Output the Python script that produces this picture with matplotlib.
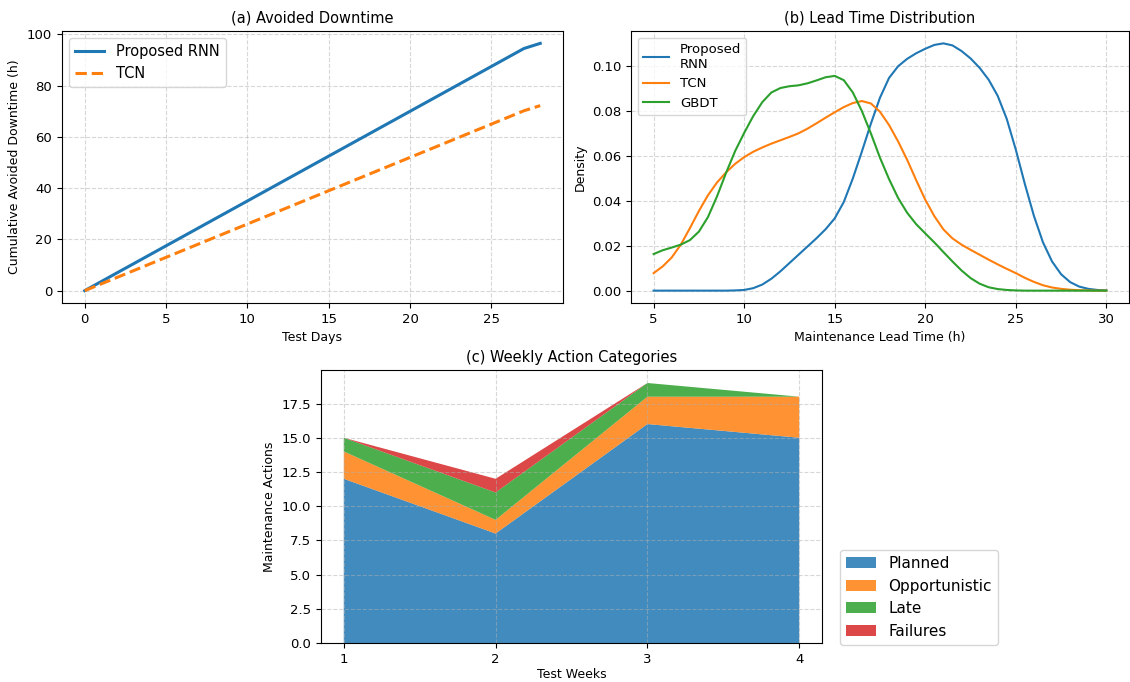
import matplotlib
matplotlib.use("Agg")
import matplotlib.pyplot as plt
import numpy as np

# (a) cumulative avoided downtime per test day
days = list(range(29))
rnn_cum = [0, 3.5, 7, 10.5, 14, 17.5, 21, 24.5, 28, 31.5, 35, 38.5, 42, 45.5, 49,
           52.5, 56, 59.5, 63, 66.5, 70, 73.5, 77, 80.5, 84, 87.5, 91, 94.5, 96.5]
tcn_cum = [0, 2.6, 5.2, 7.8, 10.4, 13, 15.6, 18.2, 20.8, 23.4, 26, 28.6, 31.2, 33.8,
           36.4, 39, 41.6, 44.2, 46.8, 49.4, 52, 54.6, 57.2, 59.8, 62.4, 65, 67.6,
           70.2, 72.2]

# (b) lead time density, read every 0.5 h from 5 to 30
lead_hours = [5.0, 5.5, 6.0, 6.5, 7.0, 7.5, 8.0, 8.5, 9.0, 9.5, 10.0, 10.5, 11.0,
              11.5, 12.0, 12.5, 13.0, 13.5, 14.0, 14.5, 15.0, 15.5, 16.0, 16.5,
              17.0, 17.5, 18.0, 18.5, 19.0, 19.5, 20.0, 20.5, 21.0, 21.5, 22.0,
              22.5, 23.0, 23.5, 24.0, 24.5, 25.0, 25.5, 26.0, 26.5, 27.0, 27.5,
              28.0, 28.5, 29.0, 29.5, 30.0]
dens_rnn = [0, 0, 0, 0, 0, 0, 0, 0, 0, 0.0001, 0.0003, 0.0011, 0.0027, 0.0053,
            0.0086, 0.0123, 0.0160, 0.0197, 0.0234, 0.0274, 0.0322, 0.0395, 0.0500,
            0.0620, 0.0745, 0.0860, 0.0948, 0.1000, 0.1033, 0.1058, 0.1078, 0.1095,
            0.1102, 0.1093, 0.1068, 0.1035, 0.0993, 0.0940, 0.0868, 0.0765, 0.0628,
            0.0475, 0.0333, 0.0215, 0.0130, 0.0073, 0.0038, 0.0018, 0.0008, 0.0003,
            0.0001]
dens_tcn = [0.0078, 0.0108, 0.0148, 0.0205, 0.0278, 0.0355, 0.0425, 0.0482, 0.0527,
            0.0565, 0.0595, 0.0619, 0.0638, 0.0655, 0.0670, 0.0685, 0.0701, 0.0722,
            0.0746, 0.0771, 0.0795, 0.0818, 0.0836, 0.0845, 0.0834, 0.0797, 0.0738,
            0.0665, 0.0583, 0.0492, 0.0405, 0.0332, 0.0273, 0.0233, 0.0205, 0.0182,
            0.0160, 0.0138, 0.0117, 0.0097, 0.0078, 0.0057, 0.0039, 0.0024, 0.0014,
            0.0008, 0.0004, 0.0002, 0.0001, 0.0, 0.0]
dens_gbdt = [0.0163, 0.0180, 0.0192, 0.0205, 0.0225, 0.0263, 0.0328, 0.0420, 0.0525,
             0.0622, 0.0703, 0.0778, 0.0840, 0.0883, 0.0903, 0.0911, 0.0915, 0.0924,
             0.0937, 0.0951, 0.0957, 0.0938, 0.0883, 0.0800, 0.0700, 0.0592, 0.0497,
             0.0413, 0.0347, 0.0296, 0.0255, 0.0215, 0.0172, 0.0130, 0.0090, 0.0056,
             0.0031, 0.0015, 0.0007, 0.0003, 0.0001, 0, 0, 0, 0, 0, 0, 0, 0, 0, 0]

# (c) weekly action categories
weeks = [1, 2, 3, 4]
planned = [12, 8, 16, 15]
opportunistic = [2, 1, 2, 3]
late = [1, 2, 1, 0]
failures = [0, 1, 0, 0]
category_labels = ["Planned", "Opportunistic", "Late", "Failures"]


fig = plt.figure(figsize=(11.3, 6.82), dpi=100)
W, H = 1130, 682


def px_axes(left, top, right, bottom):
    return fig.add_axes([left / W, 1 - bottom / H, (right - left) / W, (bottom - top) / H])


ax1 = px_axes(62, 31, 563, 303)
ax2 = px_axes(631, 31, 1129, 303)
ax3 = px_axes(321, 370, 822, 643)

ax1.plot(days, rnn_cum, "-", color="tab:blue", lw=2.2, label="Proposed RNN")
ax1.plot(days, tcn_cum, "--", color="tab:orange", lw=2.2, label="TCN")
ax1.set_title("(a) Avoided Downtime", fontsize=10.5)
ax1.set_xlabel("Test Days", fontsize=9)
ax1.set_ylabel("Cumulative Avoided Downtime (h)", fontsize=9)
ax1.legend(loc="upper left", fontsize=10.5)
ax1.grid(True, linestyle="--", alpha=0.5)

ax2.plot(lead_hours, dens_rnn, color="tab:blue", label="Proposed\nRNN")
ax2.plot(lead_hours, dens_tcn, color="tab:orange", label="TCN")
ax2.plot(lead_hours, dens_gbdt, color="tab:green", label="GBDT")
ax2.set_title("(b) Lead Time Distribution", fontsize=10.5)
ax2.set_xlabel("Maintenance Lead Time (h)", fontsize=9)
ax2.set_ylabel("Density", fontsize=9)
ax2.legend(loc="upper left", fontsize=9.5)
ax2.grid(True, linestyle="--", alpha=0.5)

ax3.stackplot(weeks, planned, opportunistic, late, failures,
              labels=category_labels,
              colors=["tab:blue", "tab:orange", "tab:green", "tab:red"], alpha=0.85)
ax3.set_title("(c) Weekly Action Categories", fontsize=10.5)
ax3.set_xlabel("Test Weeks", fontsize=9, labelpad=2)
ax3.set_ylabel("Maintenance Actions", fontsize=9)
ax3.set_xticks(weeks)
ax3.legend(loc="lower left", bbox_to_anchor=(1.02, -0.035), fontsize=11)
ax3.grid(True, linestyle="--", alpha=0.5)

for ax in (ax1, ax2, ax3):
    ax.tick_params(labelsize=9.5)

fig.savefig("out.png", dpi=100)
